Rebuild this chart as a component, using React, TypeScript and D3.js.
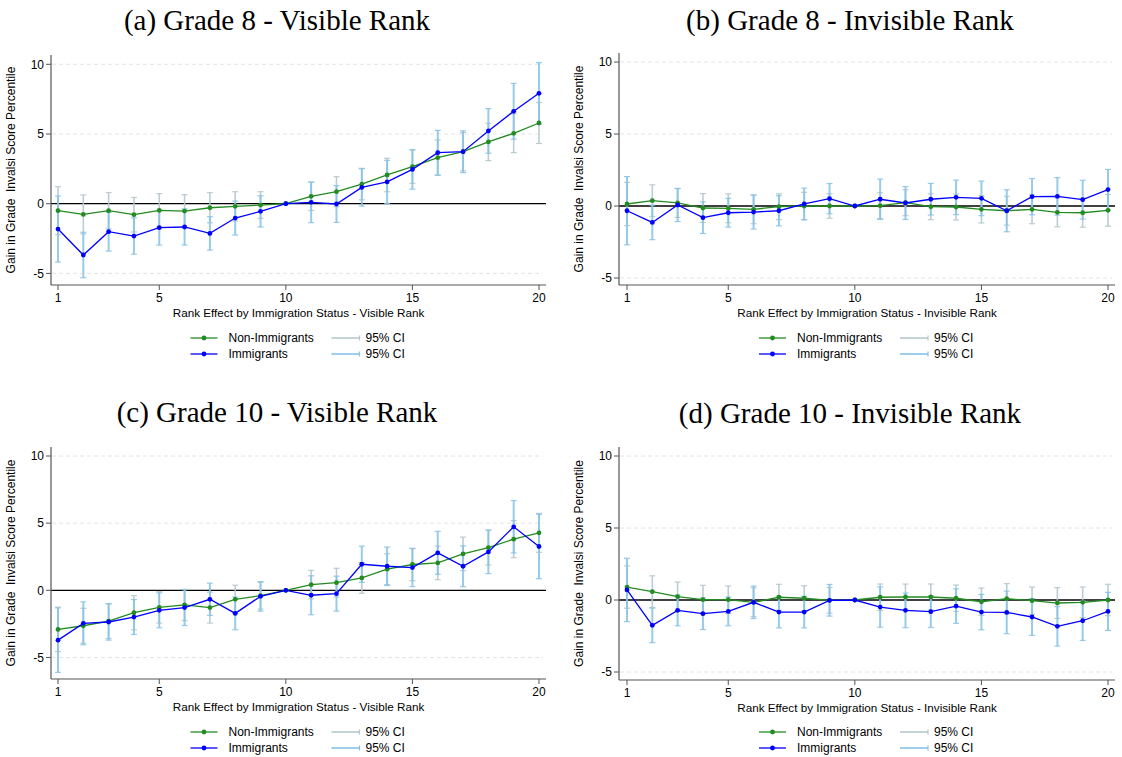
import React from "react";
import * as d3 from "d3";

const ranks = [1, 2, 3, 4, 5, 6, 7, 8, 9, 10, 11, 12, 13, 14, 15, 16, 17, 18, 19, 20];
const xTicks = [1, 5, 10, 15, 20];
const yTicks = [-5, 0, 5, 10];
const gridTicks = [-5, 5, 10];

const titles = [
  "(a) Grade 8 - Visible Rank",
  "(b) Grade 8 - Invisible Rank",
  "(c) Grade 10 - Visible Rank",
  "(d) Grade 10 - Invisible Rank",
];
const xTitles = [
  "Rank Effect by Immigration Status - Visible Rank",
  "Rank Effect by Immigration Status - Invisible Rank",
  "Rank Effect by Immigration Status - Visible Rank",
  "Rank Effect by Immigration Status - Invisible Rank",
];
const yTitle = "Gain in Grade  Invalsi Score Percentile";
const seriesNames = ["Non-Immigrants", "Immigrants"];
const ciName = "95% CI";

// (a) Grade 8 - Visible
const aNon = [-0.50, -0.77, -0.50, -0.79, -0.48, -0.53, -0.29, -0.19, -0.10, 0, 0.53, 0.86, 1.41, 2.06, 2.66, 3.30, 3.73, 4.43, 5.05, 5.79];
const aNonCi = [1.72, 1.40, 1.30, 1.24, 1.20, 1.18, 1.08, 1.05, 0.96, 0, 1.02, 1.08, 1.13, 1.20, 1.20, 1.27, 1.37, 1.34, 1.39, 1.47];
const aImm = [-1.82, -3.68, -2.01, -2.32, -1.72, -1.67, -2.13, -1.03, -0.55, 0, 0.10, -0.02, 1.17, 1.56, 2.46, 3.66, 3.73, 5.22, 6.63, 7.92];
const aImmCi = [2.37, 1.63, 1.39, 1.30, 1.25, 1.30, 1.20, 1.22, 1.12, 0, 1.46, 1.32, 1.34, 1.55, 1.42, 1.60, 1.50, 1.60, 2.00, 2.20];

// (b) Grade 8 - Invisible
const bNon = [0.14, 0.37, 0.21, -0.14, -0.16, -0.23, -0.05, 0, 0, 0, 0.02, 0.23, -0.05, -0.07, -0.23, -0.33, -0.23, -0.44, -0.47, -0.30];
const bNonCi = [1.50, 1.10, 1.00, 1.00, 1.00, 1.00, 0.90, 0.95, 0.85, 0, 0.90, 0.90, 0.90, 0.90, 0.95, 1.00, 1.00, 1.00, 1.00, 1.10];
const bImm = [-0.33, -1.14, 0.07, -0.81, -0.47, -0.42, -0.33, 0.14, 0.51, 0, 0.47, 0.21, 0.47, 0.60, 0.53, -0.33, 0.65, 0.67, 0.44, 1.14];
const bImmCi = [2.37, 1.20, 1.15, 1.10, 1.00, 1.18, 1.05, 1.10, 1.05, 0, 1.40, 1.14, 1.10, 1.20, 1.20, 1.46, 1.26, 1.30, 1.35, 1.40];

// (c) Grade 10 - Visible
const cNon = [-2.91, -2.64, -2.29, -1.67, -1.27, -1.09, -1.29, -0.67, -0.40, 0, 0.42, 0.57, 0.92, 1.57, 1.92, 2.04, 2.71, 3.18, 3.81, 4.28];
const cNonCi = [1.65, 1.30, 1.30, 1.27, 1.17, 1.16, 1.15, 1.05, 1.00, 0, 1.07, 1.07, 1.14, 1.15, 1.20, 1.25, 1.25, 1.30, 1.38, 1.45];
const cImm = [-3.71, -2.46, -2.36, -1.99, -1.49, -1.29, -0.67, -1.72, -0.45, 0, -0.37, -0.25, 1.94, 1.79, 1.69, 2.79, 1.79, 2.86, 4.73, 3.26];
const cImmCi = [2.40, 1.60, 1.35, 1.30, 1.30, 1.33, 1.20, 1.22, 1.10, 0, 1.45, 1.30, 1.35, 1.43, 1.42, 1.60, 1.52, 1.62, 1.95, 2.40];

// (d) Grade 10 - Invisible
const dNon = [0.90, 0.58, 0.23, 0.02, 0.02, -0.16, 0.19, 0.12, -0.02, 0, 0.19, 0.21, 0.21, 0.12, -0.12, 0.09, -0.05, -0.21, -0.16, 0];
const dNonCi = [1.47, 1.10, 1.02, 1.00, 0.95, 1.00, 0.90, 0.87, 0.90, 0, 0.92, 0.90, 0.90, 0.92, 0.95, 1.05, 0.95, 1.07, 1.06, 1.09];
const dImm = [0.70, -1.76, -0.72, -0.95, -0.79, -0.16, -0.84, -0.84, -0.02, 0, -0.49, -0.72, -0.81, -0.42, -0.84, -0.86, -1.18, -1.83, -1.44, -0.79];
const dImmCi = [2.20, 1.20, 1.07, 1.10, 1.00, 1.13, 1.10, 1.10, 1.10, 0, 1.40, 1.20, 1.10, 1.20, 1.23, 1.48, 1.28, 1.37, 1.37, 1.32];

const panelData = [
  { non: aNon, nonCi: aNonCi, imm: aImm, immCi: aImmCi },
  { non: bNon, nonCi: bNonCi, imm: bImm, immCi: bImmCi },
  { non: cNon, nonCi: cNonCi, imm: cImm, immCi: cImmCi },
  { non: dNon, nonCi: dNonCi, imm: dImm, immCi: dImmCi },
];

// layout (pixels)
const layouts = [
  { left: 51, right: 546, x1: 58, x20: 539, y0: 203.7, y10: 64.3, top: 55, bottom: 285, titleX: 277, titleY: 30, legY: 338 },
  { left: 619, right: 1115, x1: 627, x20: 1108, y0: 206, y10: 62, top: 53, bottom: 285, titleX: 850, titleY: 30, legY: 338 },
  { left: 51, right: 546, x1: 58, x20: 539, y0: 590.3, y10: 456, top: 447, bottom: 679, titleX: 277, titleY: 422, legY: 732 },
  { left: 619, right: 1115, x1: 627, x20: 1108, y0: 600, y10: 456, top: 447, bottom: 680, titleX: 850, titleY: 423, legY: 732 },
];

const GREEN = "#228b22";
const BLUE = "#0000ff";
const NON_CI = "#b4c8cc";
const IMM_CI = "#86c2e6";
const SANS = "'Liberation Sans', Arial, Helvetica, sans-serif";
const SERIF = "'Liberation Serif', 'Times New Roman', serif";

function Panel({ idx }: { idx: number }) {
  const L = layouts[idx];
  const D = panelData[idx];
  const x = d3.scaleLinear().domain([1, 20]).range([L.x1, L.x20]);
  const y = d3.scaleLinear().domain([0, 10]).range([L.y0, L.y10]);
  const line = d3
    .line<number>()
    .x((_, i) => x(ranks[i]))
    .y((v) => y(v));
  const cx = (L.left + L.right) / 2;
  const capW = 3;

  const ciBars = (vals: number[], ci: number[], color: string, sw: number, op: number) =>
    ranks.map((r, i) => {
      if (ci[i] === 0) return null;
      const xx = x(r);
      const hi = y(vals[i] + ci[i]);
      const lo = y(vals[i] - ci[i]);
      return (
        <g key={"ci" + color + i} stroke={color} strokeOpacity={op} fill="none">
          <line x1={xx} x2={xx} y1={hi} y2={lo} strokeWidth={sw} />
          <line x1={xx - capW} x2={xx + capW} y1={hi} y2={hi} strokeWidth={1.2} />
          <line x1={xx - capW} x2={xx + capW} y1={lo} y2={lo} strokeWidth={1.2} />
        </g>
      );
    });

  const legX = cx - 108;
  return (
    <g>
      <text x={L.titleX} y={L.titleY} textAnchor="middle" fontFamily={SERIF} fontSize={29} fill="#000">
        {titles[idx]}
      </text>
      {/* grid */}
      {gridTicks.map((t) => (
        <line key={"g" + t} x1={L.left + 1} x2={L.right - 3} y1={y(t)} y2={y(t)} stroke="#e4e4e4" strokeWidth={1} strokeDasharray="4,3" />
      ))}
      {/* zero line */}
      <line x1={L.left} x2={L.right} y1={y(0)} y2={y(0)} stroke="#000" strokeWidth={1.3} />
      {/* CIs */}
      {ciBars(D.non, D.nonCi, NON_CI, 1.6, 0.9)}
      {ciBars(D.imm, D.immCi, IMM_CI, 2, 0.85)}
      {/* lines */}
      <path d={line(D.non) || ""} fill="none" stroke={GREEN} strokeWidth={1.3} />
      {D.non.map((v, i) => (
        <circle key={"gn" + i} cx={x(ranks[i])} cy={y(v)} r={2.4} fill={GREEN} />
      ))}
      <path d={line(D.imm) || ""} fill="none" stroke={BLUE} strokeWidth={1.3} />
      {D.imm.map((v, i) => (
        <circle key={"bi" + i} cx={x(ranks[i])} cy={y(v)} r={2.4} fill={BLUE} />
      ))}
      {/* axes */}
      <line x1={L.left} x2={L.left} y1={L.top} y2={L.bottom} stroke="#555" strokeWidth={1.2} />
      <line x1={L.left} x2={L.right} y1={L.bottom} y2={L.bottom} stroke="#555" strokeWidth={1.2} />
      {yTicks.map((t) => (
        <g key={"yt" + t}>
          <line x1={L.left - 5} x2={L.left} y1={y(t)} y2={y(t)} stroke="#555" strokeWidth={1} />
          <text x={L.left - 7} y={y(t)} dy="0.35em" textAnchor="end" fontFamily={SANS} fontSize={12} fill="#000">
            {t}
          </text>
        </g>
      ))}
      {xTicks.map((t) => (
        <g key={"xt" + t}>
          <line x1={x(t)} x2={x(t)} y1={L.bottom} y2={L.bottom + 5} stroke="#555" strokeWidth={1} />
          <text x={x(t)} y={L.bottom + 17} textAnchor="middle" fontFamily={SANS} fontSize={12} fill="#000">
            {t}
          </text>
        </g>
      ))}
      <text x={cx} y={L.bottom + 32} textAnchor="middle" fontFamily={SANS} fontSize={11.7} fill="#000">
        {xTitles[idx]}
      </text>
      <text
        transform={`translate(${L.left - 36},${(L.top + L.bottom) / 2}) rotate(-90)`}
        textAnchor="middle"
        fontFamily={SANS}
        fontSize={12}
        fill="#000"
        style={{ whiteSpace: "pre" }}
      >
        {yTitle}
      </text>
      {/* legend */}
      {[0, 1].map((k) => {
        const ly = L.legY + k * 16;
        const col = k === 0 ? GREEN : BLUE;
        const ciCol = k === 0 ? NON_CI : IMM_CI;
        return (
          <g key={"leg" + k}>
            <line x1={legX} x2={legX + 27} y1={ly} y2={ly} stroke={col} strokeWidth={1.3} />
            <circle cx={legX + 13.5} cy={ly} r={2.4} fill={col} />
            <text x={legX + 38} y={ly} dy="0.35em" fontFamily={SANS} fontSize={12} fill="#000">
              {seriesNames[k]}
            </text>
            <line x1={legX + 141} x2={legX + 169} y1={ly} y2={ly} stroke={ciCol} strokeWidth={1.6} />
            <line x1={legX + 169} x2={legX + 169} y1={ly - 2.5} y2={ly + 2.5} stroke={ciCol} strokeWidth={1.2} />
            <text x={legX + 175} y={ly} dy="0.35em" fontFamily={SANS} fontSize={12} fill="#000">
              {ciName}
            </text>
          </g>
        );
      })}
    </g>
  );
}

export default function App() {
  return (
    <svg
      width={1122}
      height={757}
      style={{ position: "absolute", left: 0, top: 0, background: "#fff" }}
    >
      <rect x={0} y={0} width={1122} height={757} fill="#fff" />
      {[0, 1, 2, 3].map((i) => (
        <Panel key={i} idx={i} />
      ))}
    </svg>
  );
}
